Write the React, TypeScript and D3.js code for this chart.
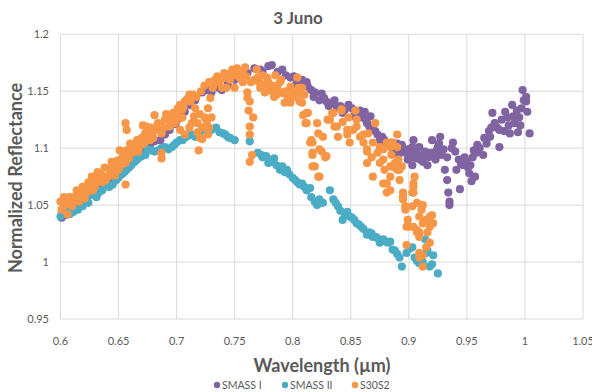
import React from "react";
import * as d3 from "d3";

const xTicks = [0.6, 0.65, 0.7, 0.75, 0.8, 0.85, 0.9, 0.95, 1, 1.05];
const yTicks = [0.95, 1, 1.05, 1.1, 1.15, 1.2];
const xTickLabels = ["0.6", "0.65", "0.7", "0.75", "0.8", "0.85", "0.9", "0.95", "1", "1.05"];
const yTickLabels = ["0.95", "1", "1.05", "1.1", "1.15", "1.2"];

const seriesNames = ["SMASS I", "SMASS II", "S30S2"];
const seriesColors = ["#8064a2", "#4bacc6", "#f79646"];

const smass1: [number, number][] = [
  [0.601,1.039],[0.605,1.0415],[0.608,1.044],[0.612,1.048],[0.617,1.052],[0.621,1.056],[0.625,1.059],
  [0.630,1.063],[0.634,1.066],[0.638,1.070],[0.643,1.072],[0.647,1.077],[0.651,1.081],[0.656,1.084],
  [0.660,1.087],[0.664,1.092],[0.668,1.096],[0.673,1.100],[0.677,1.103],[0.681,1.106],[0.686,1.107],
  [0.690,1.112],[0.694,1.116],[0.699,1.121],[0.703,1.127],[0.707,1.132],[0.711,1.138],[0.716,1.142],
  [0.722,1.149],[0.726,1.151],[0.730,1.149],[0.736,1.153],[0.739,1.151],[0.744,1.156],[0.750,1.160],
  [0.756,1.163],[0.761,1.166],[0.767,1.170],[0.772,1.169],[0.774,1.167],[0.779,1.172],[0.782,1.173],
  [0.787,1.167],[0.791,1.169],[0.794,1.164],[0.798,1.162],[0.801,1.163],[0.804,1.160],[0.808,1.160],
  [0.810,1.156],[0.813,1.154],[0.816,1.151],[0.819,1.149],[0.823,1.142],[0.827,1.144],[0.829,1.141],
  [0.834,1.140],[0.838,1.136],[0.841,1.137],[0.845,1.134],[0.851,1.135],[0.854,1.131],[0.856,1.128],
  [0.860,1.127],[0.862,1.132],[0.864,1.122],[0.866,1.119],[0.868,1.116],[0.873,1.112],[0.875,1.107],
  [0.879,1.107],[0.882,1.103],[0.885,1.105],[0.888,1.099],[0.891,1.094],[0.892,1.099],[0.894,1.103],
  [0.897,1.096],[0.898,1.096],[0.899,1.090],[0.899,1.099],[0.903,1.101],[0.903,1.085],[0.904,1.092],
  [0.904,1.107],[0.907,1.091],[0.908,1.094],[0.909,1.101],[0.912,1.094],[0.912,1.088],[0.916,1.085],
  [0.917,1.092],[0.920,1.107],[0.922,1.094],[0.924,1.098],[0.925,1.101],[0.927,1.110],[0.928,1.094],
  [0.931,1.081],[0.933,1.092],[0.933,1.072],[0.934,1.061],[0.935,1.053],[0.935,1.050],[0.938,1.105],
  [0.940,1.097],[0.941,1.081],[0.944,1.064],[0.945,1.086],[0.948,1.092],[0.951,1.083],[0.952,1.078],
  [0.954,1.071],[0.955,1.092],[0.957,1.075],[0.958,1.096],[0.959,1.103],[0.964,1.094],[0.965,1.109],
  [0.970,1.110],[0.971,1.118],[0.972,1.131],[0.976,1.118],[0.978,1.116],[0.978,1.101],[0.983,1.132],
  [0.985,1.127],[0.987,1.113],[0.989,1.138],[0.991,1.122],[0.994,1.114],[0.995,1.127],[0.998,1.151],
  [1.001,1.145],[1.001,1.141],[1.002,1.132],[1.004,1.113],
  [0.803,1.156],[0.812,1.158],[0.818,1.145],[0.825,1.148],[0.831,1.137],[0.836,1.142],[0.843,1.131],
  [0.848,1.138],[0.853,1.128],[0.858,1.133],[0.863,1.125],[0.867,1.128],[0.871,1.115],[0.877,1.110],
  [0.880,1.102],[0.886,1.099],[0.890,1.104],[0.895,1.098],[0.900,1.095],[0.906,1.098],[0.910,1.090],
  [0.914,1.097],[0.919,1.096],[0.923,1.090],[0.926,1.104],[0.930,1.099],[0.937,1.100],[0.943,1.090],
  [0.947,1.085],[0.950,1.088],[0.953,1.085],[0.956,1.098],[0.961,1.100],[0.967,1.104],[0.969,1.115],
  [0.974,1.122],[0.980,1.125],[0.982,1.115],[0.986,1.120],[0.990,1.128],[0.993,1.133],[0.997,1.135],
  [0.999,1.142],[0.996,1.120]
];

const smass2: [number, number][] = [
  [0.600,1.040],[0.601,1.043],[0.608,1.042],[0.615,1.046],[0.619,1.049],[0.624,1.052],[0.627,1.059],
  [0.631,1.057],[0.636,1.063],[0.640,1.068],[0.645,1.068],[0.648,1.072],[0.653,1.077],[0.657,1.081],
  [0.661,1.085],[0.664,1.088],[0.668,1.092],[0.673,1.094],[0.675,1.099],[0.681,1.097],[0.687,1.100],
  [0.693,1.099],[0.696,1.101],[0.700,1.105],[0.703,1.107],[0.705,1.107],[0.710,1.111],[0.716,1.110],
  [0.720,1.114],[0.724,1.116],[0.730,1.116],[0.734,1.118],[0.737,1.114],[0.742,1.112],[0.746,1.109],
  [0.750,1.107],[0.763,1.106],[0.770,1.096],[0.773,1.094],[0.774,1.092],[0.777,1.093],[0.780,1.090],
  [0.784,1.091],[0.786,1.085],[0.789,1.081],[0.791,1.084],[0.795,1.081],[0.797,1.077],[0.800,1.074],
  [0.804,1.070],[0.808,1.069],[0.812,1.063],[0.815,1.065],[0.816,1.057],[0.821,1.050],[0.823,1.055],
  [0.826,1.052],[0.832,1.063],[0.835,1.055],[0.839,1.049],[0.843,1.037],[0.847,1.044],[0.849,1.040],
  [0.853,1.037],[0.855,1.034],[0.859,1.031],[0.864,1.024],[0.866,1.026],[0.869,1.022],[0.872,1.022],
  [0.875,1.017],[0.878,1.020],[0.882,1.017],[0.884,1.018],[0.886,1.011],[0.890,1.007],[0.894,0.996],
  [0.898,1.008],[0.903,1.013],[0.905,1.004],[0.909,0.999],[0.914,1.020],[0.915,1.008],[0.918,0.996],
  [0.921,1.006],[0.925,0.990],
  [0.604,1.045],[0.611,1.044],[0.622,1.053],[0.633,1.061],[0.642,1.066],[0.650,1.074],[0.655,1.079],
  [0.659,1.083],[0.666,1.090],[0.670,1.093],[0.678,1.098],[0.684,1.098],[0.690,1.101],[0.698,1.103],
  [0.707,1.109],[0.713,1.112],[0.727,1.117],[0.740,1.113],[0.744,1.110],[0.779,1.087],[0.782,1.088],
  [0.793,1.079],[0.802,1.072],[0.806,1.068],[0.810,1.066],[0.819,1.053],[0.837,1.052],[0.841,1.045],
  [0.845,1.042],[0.851,1.039],[0.857,1.033],[0.861,1.029],[0.868,1.025],[0.874,1.020],[0.880,1.018],
  [0.888,1.010],[0.892,1.004],[0.901,1.012],[0.907,1.001],[0.912,1.000],[0.916,1.010],[0.920,0.998]
];

const s30s2: [number, number][] = [
  [0.600,1.053],[0.601,1.046],[0.603,1.057],[0.606,1.042],[0.606,1.052],[0.608,1.057],[0.610,1.049],
  [0.612,1.055],[0.614,1.063],[0.617,1.059],[0.619,1.066],[0.621,1.056],[0.624,1.070],[0.624,1.062],
  [0.627,1.075],[0.630,1.067],[0.631,1.072],[0.632,1.079],[0.636,1.070],[0.638,1.083],[0.641,1.075],
  [0.643,1.079],[0.645,1.085],[0.647,1.076],[0.649,1.089],[0.650,1.081],[0.651,1.098],[0.653,1.091],
  [0.656,1.087],[0.656,1.068],[0.656,1.122],[0.657,1.116],[0.657,1.098],[0.660,1.104],[0.662,1.096],
  [0.666,1.107],[0.668,1.101],[0.671,1.120],[0.673,1.113],[0.674,1.119],[0.677,1.107],[0.679,1.113],
  [0.681,1.129],[0.684,1.122],[0.687,1.113],[0.687,1.096],[0.687,1.091],[0.690,1.125],[0.692,1.126],
  [0.694,1.119],[0.697,1.131],[0.701,1.125],[0.705,1.134],
  [0.701,1.135],[0.705,1.127],[0.707,1.141],[0.711,1.147],[0.713,1.122],[0.716,1.135],[0.718,1.122],
  [0.718,1.114],[0.720,1.109],[0.719,1.098],[0.722,1.118],[0.726,1.123],[0.727,1.112],[0.727,1.135],
  [0.729,1.144],[0.730,1.127],[0.731,1.153],[0.733,1.160],[0.736,1.158],[0.739,1.153],[0.742,1.162],
  [0.743,1.153],[0.746,1.160],[0.749,1.164],[0.750,1.153],[0.755,1.166],[0.759,1.171],[0.757,1.158],
  [0.761,1.149],[0.761,1.144],[0.763,1.141],[0.766,1.127],[0.763,1.119],[0.763,1.112],[0.763,1.088],
  [0.765,1.094],[0.769,1.169],[0.770,1.162],[0.772,1.153],[0.774,1.164],[0.776,1.149],[0.779,1.158],
  [0.780,1.153],[0.783,1.155],[0.785,1.164],[0.786,1.147],[0.789,1.158],[0.791,1.149],[0.793,1.140],
  [0.796,1.144],[0.798,1.154],[0.800,1.149],[0.804,1.162],[0.808,1.153],[0.809,1.129],
  [0.703,1.116],[0.707,1.112],[0.711,1.118],[0.720,1.130],[0.724,1.127],[0.762,1.133],
  [0.805,1.153],[0.808,1.140],[0.810,1.147],[0.813,1.131],[0.812,1.122],[0.817,1.105],[0.815,1.105],
  [0.821,1.122],[0.822,1.113],[0.823,1.099],[0.817,1.094],[0.819,1.084],[0.822,1.075],[0.826,1.110],
  [0.828,1.092],[0.830,1.125],[0.834,1.131],[0.836,1.119],[0.839,1.110],[0.842,1.134],[0.843,1.123],
  [0.847,1.112],[0.848,1.127],[0.852,1.116],[0.855,1.125],[0.858,1.110],[0.861,1.105],[0.864,1.099],
  [0.865,1.113],[0.871,1.122],[0.869,1.105],[0.873,1.096],[0.875,1.101],[0.878,1.090],[0.864,1.087],
  [0.869,1.075],[0.879,1.081],[0.885,1.094],[0.884,1.101],[0.888,1.087],[0.890,1.081],[0.894,1.084],
  [0.879,1.069],[0.895,1.061],[0.903,1.061],[0.904,1.069],
  [0.792,1.148],[0.798,1.140],[0.806,1.141],[0.812,1.131],[0.811,1.122],[0.816,1.107],[0.817,1.096],
  [0.817,1.084],[0.823,1.075],[0.825,1.097],[0.829,1.093],[0.832,1.125],[0.835,1.131],[0.838,1.119],
  [0.842,1.133],[0.847,1.116],[0.849,1.105],[0.854,1.133],[0.855,1.119],[0.861,1.112],[0.864,1.097],
  [0.868,1.092],[0.875,1.087],[0.878,1.069],[0.881,1.061],[0.884,1.075],[0.888,1.083],[0.890,1.101],
  [0.892,1.072],[0.895,1.057],[0.897,1.049],[0.903,1.049],[0.904,1.066],[0.905,1.075],[0.899,1.037],
  [0.898,1.031],[0.904,1.031],[0.907,1.026],[0.909,1.040],[0.912,1.050],[0.915,1.037],[0.918,1.031],
  [0.920,1.041],[0.921,1.034],[0.909,1.026],[0.898,1.015],[0.909,1.008],[0.912,0.996],[0.915,1.013],
  [0.878,1.099],[0.881,1.105],[0.886,1.105],[0.890,1.112],[0.891,1.090],[0.884,1.084],[0.892,1.081],
  [0.881,1.069],[0.884,1.063],[0.895,1.055],[0.904,1.061],[0.897,1.046],[0.907,1.052],[0.911,1.046],
  [0.901,1.031],[0.907,1.028],[0.912,1.034],[0.918,1.040],[0.916,1.026],[0.909,1.022],[0.918,1.017],
  [0.912,1.006],[0.909,1.004],
  [0.604,1.050],[0.609,1.052],[0.613,1.058],[0.616,1.053],[0.620,1.061],[0.622,1.065],[0.626,1.068],
  [0.628,1.063],[0.633,1.074],[0.635,1.077],[0.639,1.072],[0.642,1.082],[0.644,1.088],[0.646,1.081],
  [0.652,1.085],[0.655,1.093],[0.659,1.091],[0.661,1.100],[0.664,1.103],[0.667,1.097],[0.670,1.109],
  [0.672,1.104],[0.675,1.111],[0.678,1.118],[0.680,1.109],[0.683,1.116],[0.686,1.120],[0.689,1.118],
  [0.691,1.130],[0.695,1.125],[0.698,1.122],[0.700,1.131],[0.703,1.138],[0.706,1.137],[0.709,1.143],
  [0.712,1.141],[0.714,1.147],[0.717,1.145],[0.721,1.150],[0.724,1.155],[0.728,1.158],[0.732,1.156],
  [0.735,1.163],[0.738,1.160],[0.741,1.166],[0.745,1.165],[0.748,1.169],[0.752,1.170],[0.754,1.162],
  [0.757,1.167],[0.760,1.163],[0.764,1.158],[0.767,1.160],[0.771,1.158],[0.775,1.156],[0.778,1.162],
  [0.782,1.150],[0.784,1.145],[0.787,1.152],[0.790,1.160],[0.794,1.150],[0.797,1.147],[0.802,1.145],
  [0.806,1.148],[0.715,1.128],[0.722,1.108],[0.728,1.118]
];

const seriesData = [smass1, smass2, s30s2];

const W = 592;
const H = 392;
const FONT = "Lato, 'Open Sans', sans-serif";

export default function App() {
  const x = d3.scaleLinear().domain([0.6, 1.05]).range([60.5, 583]);
  const y = d3.scaleLinear().domain([0.95, 1.2]).range([319, 34.3]);
  const legendX = [217, 285, 355];
  return (
    <svg width={W} height={H} style={{ position: "absolute", left: 0, top: 0, background: "#fff" }}>
      <rect x={0} y={0} width={W} height={H} fill="#fff" />
      <g>
        {xTicks.map((t, i) => (
          <line key={"gx" + i} x1={x(t)} x2={x(t)} y1={y(1.2)} y2={y(0.95)} stroke="#d9d9d9" strokeWidth={1} />
        ))}
        {yTicks.map((t, i) => (
          <line key={"gy" + i} x1={x(0.6)} x2={x(1.05)} y1={y(t)} y2={y(t)} stroke="#d9d9d9" strokeWidth={1} />
        ))}
      </g>
      <g fontFamily={FONT} fontSize={11} fill="#595959">
        {xTicks.map((t, i) => (
          <text key={"tx" + i} x={x(t)} y={345} textAnchor="middle">{xTickLabels[i]}</text>
        ))}
        {yTicks.map((t, i) => (
          <text key={"ty" + i} x={49} y={y(t) + 4} textAnchor="end">{yTickLabels[i]}</text>
        ))}
      </g>
      {seriesData.map((data, si) => (
        <g key={"s" + si} fill={seriesColors[si]}>
          {data.map((d, i) => (
            <circle key={i} cx={x(d[0])} cy={y(d[1])} r={4.1} />
          ))}
        </g>
      ))}
      <text x={298} y={24} textAnchor="middle" fontFamily={FONT} fontSize={17} fontWeight="bold" fill="#595959">3 Juno</text>
      <text x={322} y={372} textAnchor="middle" fontFamily={FONT} fontSize={18} fontWeight="bold" fill="#595959">Wavelength (µm)</text>
      <text transform={`translate(22,178) rotate(-90)`} textAnchor="middle" fontFamily={FONT} fontSize={18} fontWeight="bold" fill="#595959">Normalized Reflectance</text>
      <g fontFamily={FONT} fontSize={10.5} fill="#595959">
        {seriesNames.map((n, i) => (
          <g key={"l" + i}>
            <circle cx={legendX[i]} cy={385} r={3.2} fill={seriesColors[i]} />
            <text x={legendX[i] + 5} y={389}>{n}</text>
          </g>
        ))}
      </g>
    </svg>
  );
}
